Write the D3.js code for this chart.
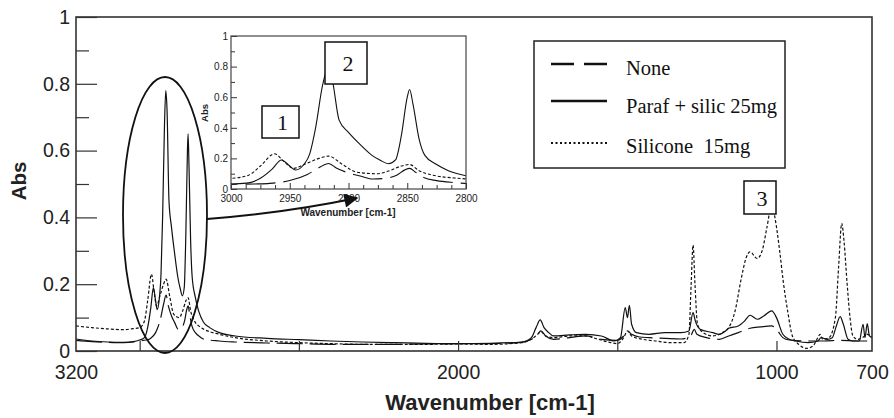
<!DOCTYPE html>
<html>
<head>
<meta charset="UTF-8">
<script src="https://d3js.org/d3.v7.min.js"></script>
<style>
  body { margin: 0; background: #fff; }
  svg { display: block; }
  .tick text { font-family: "Liberation Sans", Arial, sans-serif; fill: #222; }
  .serif { font-family: "Liberation Serif", "Times New Roman", serif; fill: #111; }
</style>
</head>
<body>
<svg width="894" height="418"></svg>
<script>
// wavenumber [cm-1], absorbance
const noneSpec = [
  [3200, 0.032], [3150, 0.028], [3100, 0.026], [3050, 0.025], [3020, 0.027], [3000, 0.03],
  [2980, 0.033], [2967, 0.037], [2950, 0.055], [2935, 0.095], [2925, 0.14], [2917, 0.167],
  [2910, 0.135], [2900, 0.105], [2890, 0.085], [2879, 0.065], [2868, 0.07], [2859, 0.09],
  [2852, 0.125], [2848, 0.135], [2843, 0.11], [2836, 0.075], [2825, 0.055], [2810, 0.042],
  [2800, 0.036], [2750, 0.03], [2700, 0.027], [2600, 0.024], [2500, 0.022], [2400, 0.02],
  [2300, 0.02], [2200, 0.02], [2100, 0.021], [2000, 0.022], [1900, 0.022], [1800, 0.026],
  [1770, 0.035], [1750, 0.05], [1740, 0.06], [1725, 0.045], [1700, 0.035], [1650, 0.04],
  [1600, 0.045], [1550, 0.035], [1500, 0.032], [1480, 0.045], [1468, 0.06], [1455, 0.05],
  [1430, 0.042], [1400, 0.04], [1350, 0.038], [1300, 0.036], [1270, 0.045], [1258, 0.065],
  [1250, 0.05], [1220, 0.04], [1180, 0.035], [1150, 0.045], [1120, 0.055], [1083, 0.068],
  [1050, 0.072], [1015, 0.075], [1000, 0.065], [980, 0.04], [960, 0.033], [900, 0.03],
  [850, 0.03], [800, 0.032], [750, 0.03], [700, 0.03]
];
const parafSpec = [
  [3200, 0.036], [3150, 0.03], [3100, 0.027], [3050, 0.026], [3020, 0.028], [3000, 0.033],
  [2985, 0.04], [2975, 0.07], [2965, 0.13], [2957, 0.19], [2950, 0.15], [2945, 0.124],
  [2938, 0.16], [2933, 0.23], [2928, 0.4], [2922, 0.68], [2918, 0.78], [2914, 0.72],
  [2908, 0.45], [2900, 0.37], [2890, 0.29], [2880, 0.22], [2873, 0.188], [2866, 0.165],
  [2860, 0.19], [2855, 0.35], [2850, 0.6], [2848, 0.65], [2845, 0.55], [2840, 0.33],
  [2835, 0.22], [2825, 0.16], [2815, 0.12], [2800, 0.087], [2780, 0.07], [2750, 0.055],
  [2700, 0.045], [2600, 0.038], [2500, 0.034], [2400, 0.03], [2300, 0.027], [2200, 0.025],
  [2100, 0.023], [2000, 0.022], [1900, 0.023], [1800, 0.027], [1770, 0.04], [1755, 0.07],
  [1742, 0.093], [1730, 0.07], [1715, 0.055], [1700, 0.045], [1650, 0.048], [1600, 0.05],
  [1550, 0.045], [1510, 0.03], [1490, 0.04], [1475, 0.13], [1468, 0.1], [1462, 0.137],
  [1455, 0.08], [1440, 0.055], [1400, 0.05], [1350, 0.055], [1300, 0.055], [1275, 0.06],
  [1262, 0.115], [1255, 0.09], [1240, 0.065], [1200, 0.055], [1180, 0.05], [1160, 0.06],
  [1150, 0.068], [1120, 0.075], [1100, 0.09], [1083, 0.107], [1060, 0.095], [1040, 0.105],
  [1015, 0.12], [1000, 0.1], [980, 0.05], [960, 0.035], [940, 0.03], [900, 0.025],
  [870, 0.03], [860, 0.04], [840, 0.035], [825, 0.04], [812, 0.075], [800, 0.103],
  [790, 0.08], [775, 0.035], [760, 0.03], [740, 0.03], [728, 0.08], [722, 0.04],
  [715, 0.082], [708, 0.045], [700, 0.04]
];
const siliconeSpec = [
  [3200, 0.075], [3150, 0.07], [3100, 0.066], [3050, 0.064], [3020, 0.067], [3000, 0.07],
  [2985, 0.09], [2975, 0.15], [2963, 0.23], [2955, 0.18], [2947, 0.135], [2935, 0.17],
  [2925, 0.2], [2917, 0.215], [2905, 0.16], [2893, 0.11], [2876, 0.1], [2865, 0.12],
  [2855, 0.15], [2848, 0.16], [2840, 0.12], [2828, 0.09], [2810, 0.072], [2800, 0.066],
  [2750, 0.05], [2700, 0.04], [2600, 0.03], [2500, 0.025], [2400, 0.022], [2300, 0.02],
  [2200, 0.02], [2100, 0.02], [2000, 0.021], [1900, 0.02], [1800, 0.025], [1770, 0.035],
  [1750, 0.05], [1740, 0.058], [1725, 0.045], [1700, 0.04], [1650, 0.045], [1600, 0.045],
  [1560, 0.035], [1520, 0.025], [1500, 0.022], [1480, 0.04], [1468, 0.06], [1455, 0.045],
  [1420, 0.035], [1380, 0.03], [1330, 0.025], [1290, 0.025], [1275, 0.05], [1268, 0.2],
  [1262, 0.317], [1256, 0.2], [1248, 0.08], [1230, 0.055], [1200, 0.045], [1170, 0.055],
  [1150, 0.07], [1130, 0.12], [1110, 0.22], [1095, 0.28], [1083, 0.297], [1061, 0.277],
  [1045, 0.3], [1030, 0.37], [1015, 0.437], [1005, 0.4], [990, 0.3], [979, 0.21],
  [965, 0.12], [950, 0.045], [930, 0.02], [905, 0.008], [885, 0.015], [870, 0.04],
  [863, 0.05], [855, 0.035], [835, 0.04], [815, 0.1], [805, 0.25], [795, 0.382],
  [788, 0.33], [778, 0.2], [769, 0.1], [760, 0.045], [745, 0.035], [730, 0.04],
  [715, 0.05], [700, 0.04]
];

const seriesNames = ["None", "Paraf + silic 25mg", "Silicone  15mg"];
const mainXTicks = [3000, 2500, 2000, 1500, 1000];
const mainXLabels = [3200, 2000, 1000, 700];
const yLabels = [0, 0.2, 0.4, 0.6, 0.8, 1];
const yMinor = [0.1, 0.3, 0.5, 0.7, 0.9];
const insetXLabels = [3000, 2950, 2900, 2850, 2800];
const peakLabels = ["1", "2", "3"];

const svg = d3.select("svg");

const x = d3.scaleLinear().domain([3200, 700]).range([76, 872]);
const y = d3.scaleLinear().domain([0, 1]).range([351, 17]);

const series = [
  { name: seriesNames[0], data: noneSpec, dash: "26,7" , dashIn: "30,8" },
  { name: seriesNames[1], data: parafSpec, dash: null, dashIn: null },
  { name: seriesNames[2], data: siliconeSpec, dash: "3,2", dashIn: "3,2" }
];

const defs = svg.append("defs");
defs.append("clipPath").attr("id", "clipMain")
  .append("rect").attr("x", 76).attr("y", 17).attr("width", 796).attr("height", 334);

// main curves
const line = d3.line().x(d => x(d[0])).y(d => y(d[1])).curve(d3.curveMonotoneX);
svg.append("g").attr("clip-path", "url(#clipMain)")
  .selectAll("path").data(series).join("path")
  .attr("d", d => line(d.data))
  .attr("fill", "none").attr("stroke", "#111").attr("stroke-width", 1.2)
  .attr("stroke-dasharray", d => d.dash);

// axes
const xAx = svg.append("g").attr("transform", "translate(0,351)")
  .call(d3.axisBottom(x).tickValues(mainXTicks).tickSize(-10).tickFormat(""));
xAx.select(".domain").remove();
xAx.selectAll("line").attr("stroke", "#333").attr("stroke-width", 1.2);

const xLab = svg.append("g").attr("transform", "translate(0,351)")
  .call(d3.axisBottom(x).tickValues(mainXLabels).tickSize(0).tickPadding(14).tickFormat(d3.format("d")));
xLab.select(".domain").remove();
xLab.selectAll("text").attr("font-size", 19.5);

const yAx = svg.append("g").attr("transform", "translate(76,0)")
  .call(d3.axisLeft(y).tickValues(yLabels).tickSize(-21).tickPadding(6)
    .tickFormat(d => d === 0 || d === 1 ? d3.format("d")(d) : d3.format(".1f")(d)));
yAx.select(".domain").remove();
yAx.selectAll("line").attr("stroke", "#333").attr("stroke-width", 1.2);
yAx.selectAll("text").attr("font-size", 19.5);

const yMin = svg.append("g").attr("transform", "translate(76,0)")
  .call(d3.axisLeft(y).tickValues(yMinor).tickSize(-13).tickFormat(""));
yMin.select(".domain").remove();
yMin.selectAll("line").attr("stroke", "#333").attr("stroke-width", 1.2);

svg.append("rect").attr("x", 76).attr("y", 17).attr("width", 796).attr("height", 334)
  .attr("fill", "none").attr("stroke", "#333").attr("stroke-width", 1.6);

svg.append("text").attr("x", 490).attr("y", 410).attr("text-anchor", "middle")
  .attr("font-family", "Liberation Sans, Arial, sans-serif").attr("font-weight", "bold")
  .attr("font-size", 22).attr("fill", "#222").text("Wavenumber [cm-1]");

svg.append("text").attr("transform", "translate(26,181) rotate(-90)").attr("text-anchor", "middle")
  .attr("font-family", "Liberation Sans, Arial, sans-serif").attr("font-weight", "bold")
  .attr("font-size", 20.5).attr("fill", "#222").text("Abs");

// ellipse around the CH stretch region
svg.append("ellipse").attr("cx", 165).attr("cy", 215).attr("rx", 42).attr("ry", 138)
  .attr("fill", "none").attr("stroke", "#111").attr("stroke-width", 1.8);

// inset
const xi = d3.scaleLinear().domain([3000, 2800]).range([231, 466]);
const yi = d3.scaleLinear().domain([0, 1]).range([189, 36]);

svg.append("rect").attr("x", 231).attr("y", 36).attr("width", 235).attr("height", 153)
  .attr("fill", "#fff");
defs.append("clipPath").attr("id", "clipIn")
  .append("rect").attr("x", 231).attr("y", 36).attr("width", 235).attr("height", 153);

const lineIn = d3.line().x(d => xi(d[0])).y(d => yi(d[1])).curve(d3.curveMonotoneX);
svg.append("g").attr("clip-path", "url(#clipIn)")
  .selectAll("path").data(series).join("path")
  .attr("d", d => lineIn(d.data.filter(p => p[0] <= 3020 && p[0] >= 2780)))
  .attr("fill", "none").attr("stroke", "#111").attr("stroke-width", 1.1)
  .attr("stroke-dasharray", d => d.dashIn);

const xiAx = svg.append("g").attr("transform", "translate(0,189)")
  .call(d3.axisBottom(xi).tickValues(insetXLabels).tickSize(-6).tickPadding(4).tickFormat(d3.format("d")));
xiAx.select(".domain").remove();
xiAx.selectAll("text").attr("font-size", 10).attr("dy", "0.9em");
xiAx.selectAll("line").attr("stroke", "#333");
const xiMin = svg.append("g").attr("transform", "translate(0,189)")
  .call(d3.axisBottom(xi).tickValues(d3.range(2987.5, 2800, -12.5).filter(v => v % 50 !== 0))
    .tickSize(-4).tickFormat(""));
xiMin.select(".domain").remove();
xiMin.selectAll("line").attr("stroke", "#333");

const yiAx = svg.append("g").attr("transform", "translate(231,0)")
  .call(d3.axisLeft(yi).tickValues(yLabels).tickSize(-6).tickPadding(3)
    .tickFormat(d => d === 0 || d === 1 ? d3.format("d")(d) : d3.format(".1f")(d)));
yiAx.select(".domain").remove();
yiAx.selectAll("text").attr("font-size", 10);
yiAx.selectAll("line").attr("stroke", "#333");
const yiMin = svg.append("g").attr("transform", "translate(231,0)")
  .call(d3.axisLeft(yi).tickValues(yMinor).tickSize(-4).tickFormat(""));
yiMin.select(".domain").remove();
yiMin.selectAll("line").attr("stroke", "#333");

svg.append("rect").attr("x", 231).attr("y", 36).attr("width", 235).attr("height", 153)
  .attr("fill", "none").attr("stroke", "#444").attr("stroke-width", 1.2);

svg.append("text").attr("x", 348).attr("y", 216).attr("text-anchor", "middle")
  .attr("font-family", "Liberation Sans, Arial, sans-serif").attr("font-weight", "bold")
  .attr("font-size", 10).attr("fill", "#222").text("Wavenumber [cm-1]");
svg.append("text").attr("transform", "translate(208,113) rotate(-90)").attr("text-anchor", "middle")
  .attr("font-family", "Liberation Sans, Arial, sans-serif").attr("font-weight", "bold")
  .attr("font-size", 9.5).attr("fill", "#222").text("Abs");

// arrow from ellipse to inset
defs.append("marker").attr("id", "head").attr("viewBox", "0 0 10 10")
  .attr("refX", 9).attr("refY", 5).attr("markerWidth", 9).attr("markerHeight", 7)
  .attr("markerUnits", "strokeWidth").attr("orient", "auto")
  .append("path").attr("d", "M0,0 L10,5 L0,10 z").attr("fill", "#111");
svg.append("path").attr("d", "M207,219 Q285,213 357,198")
  .attr("fill", "none").attr("stroke", "#111").attr("stroke-width", 2)
  .attr("marker-end", "url(#head)");

// numbered boxes
const boxes = [
  { label: peakLabels[0], x: 262, y: 106, w: 37, h: 32 },
  { label: peakLabels[1], x: 325, y: 42, w: 42, h: 42 },
  { label: peakLabels[2], x: 744, y: 181, w: 32, h: 33 }
];
const bx = svg.append("g").selectAll("g").data(boxes).join("g");
bx.append("rect").attr("x", d => d.x).attr("y", d => d.y).attr("width", d => d.w).attr("height", d => d.h)
  .attr("fill", "#fff").attr("stroke", "#111").attr("stroke-width", 1.5);
bx.append("text").attr("class", "serif").attr("x", d => d.x + d.w / 2 + 2).attr("y", d => d.y + d.h / 2 + 8)
  .attr("text-anchor", "middle").attr("font-size", 22).text(d => d.label);

// legend
const lg = svg.append("g");
lg.append("rect").attr("x", 534).attr("y", 41).attr("width", 251).attr("height", 127)
  .attr("fill", "#fff").attr("stroke", "#222").attr("stroke-width", 1.5);
const legendRows = [
  { s: series[0], ly: 64, ty: 75, dash: "23,10", w: 2.3 },
  { s: series[1], ly: 101, ty: 113, dash: null, w: 2.3 },
  { s: series[2], ly: 143, ty: 153, dash: "2,2.5", w: 2 }
];
lg.selectAll("line").data(legendRows).join("line")
  .attr("x1", 551).attr("x2", 607).attr("y1", d => d.ly).attr("y2", d => d.ly)
  .attr("stroke", "#111").attr("stroke-width", d => d.w).attr("stroke-dasharray", d => d.dash);
lg.selectAll("text").data(legendRows).join("text")
  .attr("class", "serif").attr("x", 626).attr("y", d => d.ty)
  .attr("font-size", 20.5).style("white-space", "pre").text(d => d.s.name);
</script>
</body>
</html>
